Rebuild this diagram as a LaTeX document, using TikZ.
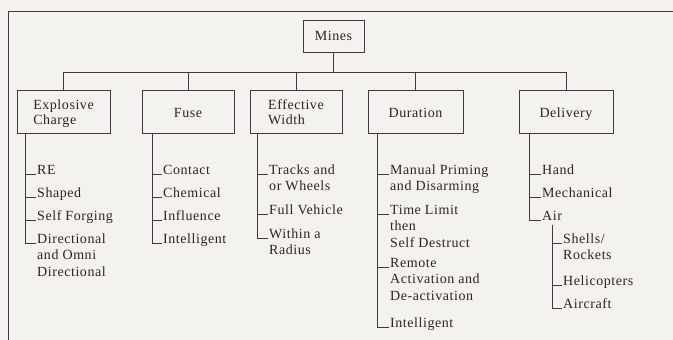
\documentclass[tikz,border=0pt]{standalone}
\usepackage{fontspec}
\setmainfont[LetterSpace=4]{Liberation Serif}
% several lines whose reference point is the first baseline
\newcommand{\stack}[1]{\begin{tabular}[t]{@{}l@{}}#1\end{tabular}}
% box label, set a little below the middle of its box
\newcommand{\boxlabel}[1]{\raisebox{-2.5pt}[\height][\depth]{%
  \begin{tabular}{@{}l@{}}#1\end{tabular}}}
\begin{document}
\begin{tikzpicture}[x=1pt,y=-1pt,
  ink/.style={draw=linecol,line width=0.9pt},
  catbox/.style={ink,rectangle,minimum height=43pt,inner sep=0pt,
    text=txtcol,font=\fontsize{14}{15.5}\selectfont},
  item/.style={anchor=base west,inner xsep=1pt,inner ysep=2pt,
    text=txtcol,font=\fontsize{14}{16.5}\selectfont},
  spine/.style={ink}]
\definecolor{linecol}{HTML}{463644}
\definecolor{txtcol}{HTML}{2E2229}
\definecolor{paper}{HTML}{F4F2EF}
% page
\fill[paper] (0,0) rectangle (673,340);
\useasboundingbox (0,0) rectangle (673,340);
% frame
\draw[ink] (673,11) -- (8,11) -- (8,340);

% root
\node[catbox,minimum width=61pt,minimum height=32pt] (mines) at (333.5,36) {Mines};

% categories
\node[catbox,minimum width=93pt] (ec)   at (63.5,111.5) {\boxlabel{Explosive\\Charge}};
\node[catbox,minimum width=92pt] (fuse) at (188,111.5)  {\boxlabel{Fuse}};
\node[catbox,minimum width=92pt] (ew)   at (296,111.5)  {\boxlabel{Effective\\Width}};
\node[catbox,minimum width=95pt] (dur)  at (415.5,111.5){\boxlabel{Duration}};
\node[catbox,minimum width=94pt] (del)  at (566,111.5)  {\boxlabel{Delivery}};

% bus from the root to the categories
\coordinate (bus) at (333.5,72);
\draw[ink] (mines.south) -- (bus);
\draw[ink] (ec.north) |- (bus);
\draw[ink] (del.north) |- (bus);
\draw[ink] (fuse.north) -- (fuse.north |- bus);
\draw[ink] (ew.north) -- (ew.north |- bus);
\draw[ink] (dur.north) -- (dur.north |- bus);

% explosive charge
\node[item] (re)  at (36,174) {RE};
\node[item] (sh)  at (36,197) {Shaped};
\node[item] (sf)  at (36,220) {Self Forging};
\node[item] (dir) at (36,243) {\stack{Directional\\and Omni\\Directional}};
\foreach \n in {re,sh,sf,dir}
  \draw[spine] (ec.south west) ++(9,0) |- (\n.base west);

% fuse
\node[item] (fc)  at (162,174) {Contact};
\node[item] (fch) at (162,197) {Chemical};
\node[item] (fin) at (162,220) {Influence};
\node[item] (fit) at (162,243) {Intelligent};
\foreach \n in {fc,fch,fin,fit}
  \draw[spine] (fuse.south west) ++(11,0) |- (\n.base west);

% effective width
\node[item] (tw) at (268,174) {\stack{Tracks and\\or Wheels}};
\node[item] (fv) at (268,214) {Full Vehicle};
\node[item] (wr) at (268,238) {\stack{Within a\\Radius}};
\foreach \n in {tw,fv,wr}
  \draw[spine] (ew.south west) ++(8,0) |- (\n.base west);

% duration
\node[item] (mp) at (389,174) {\stack{Manual Priming\\and Disarming}};
\node[item] (tl) at (389,214) {\stack{Time Limit\\then\\Self Destruct}};
\node[item] (ra) at (389,267) {\stack{Remote\\Activation and\\De-activation}};
\node[item] (di) at (389,327) {Intelligent};
\foreach \n in {mp,tl,ra,di}
  \draw[spine] (dur.south west) ++(10,0) |- (\n.base west);

% delivery
\node[item] (hd)  at (541,174) {Hand};
\node[item] (mc)  at (541,197) {Mechanical};
\node[item] (air) at (541,220) {Air};
\foreach \n in {hd,mc,air}
  \draw[spine] (del.south west) ++(11,0) |- (\n.base west);

% air delivery
\node[item] (sr) at (562,243) {\stack{Shells/\\Rockets}};
\node[item] (hc) at (562,285) {Helicopters};
\node[item] (ac) at (562,308) {Aircraft};
\foreach \n in {sr,hc,ac}
  \draw[spine] (air.south west) ++(11,3) |- (\n.base west);
\end{tikzpicture}
\end{document}
